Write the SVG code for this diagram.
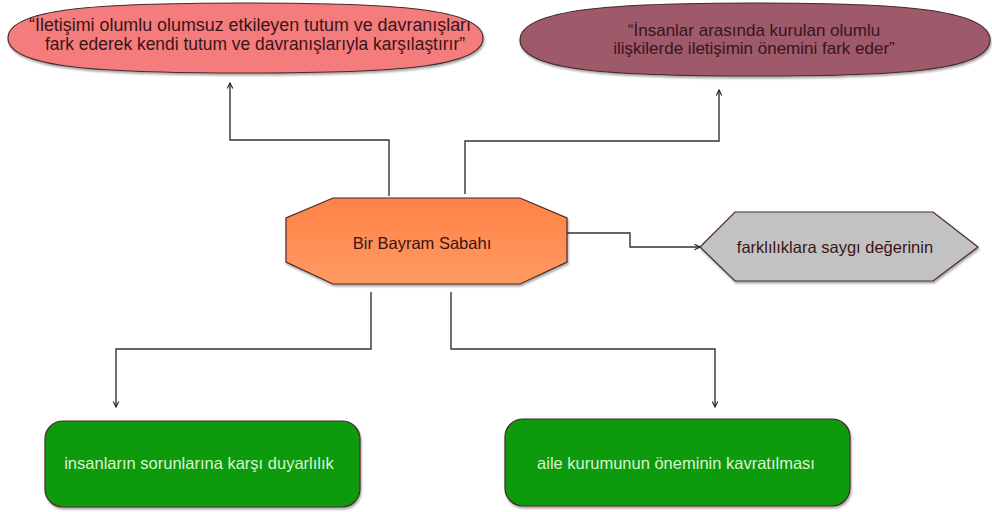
<svg xmlns="http://www.w3.org/2000/svg" width="992" height="512" viewBox="0 0 992 512">
  <defs>
    <marker id="arrow" viewBox="0 0 10 10" refX="9" refY="5" markerWidth="7" markerHeight="7" orient="auto" markerUnits="userSpaceOnUse">
      <path d="M1,1 L9,5 L1,9" fill="none" stroke="#222" stroke-width="1.6"/>
    </marker>
    <linearGradient id="orangeFill" x1="0" y1="0" x2="0" y2="1">
      <stop offset="0" stop-color="#FF8246"/>
      <stop offset="1" stop-color="#FF9A62"/>
    </linearGradient>
    <filter id="shadow" x="-5%" y="-10%" width="110%" height="130%">
      <feDropShadow dx="1" dy="2" stdDeviation="1" flood-color="#000" flood-opacity="0.35"/>
    </filter>
  </defs>
  <style>
    .shape { stroke: #4a2a2a; stroke-width: 1.2; filter: url(#shadow); }
    .label { font-family: "Liberation Sans", Arial, sans-serif; font-size: 16.5px; text-anchor: middle; }
    .big { font-size: 17.5px; }
    .mid { font-size: 17px; }
    .dark { fill: #3a1418; }
    .light { fill: #d8f5d0; }
    .conn { fill: none; stroke: #333; stroke-width: 1.4; marker-end: url(#arrow); }
  </style>
  <rect width="992" height="512" fill="#ffffff"/>

  <g id="connectors">
    <path class="conn" d="M389,196 V140 H230 V83"/>
    <path class="conn" d="M465,194 V141 H719 V90"/>
    <path class="conn" d="M567,233 H630 V247 H700"/>
    <path class="conn" d="M371,292 V349 H116 V407"/>
    <path class="conn" d="M451,292 V349 H715 V407"/>
  </g>

  <g id="node-iletisim-tutum">
    <path class="shape" fill="#F47C7C" d="M8,38 C8,8 100,3 245,3 C390,3 483,8 483,38 C483,68 390,73 245,73 C100,73 8,68 8,38 Z"/>
    <text class="label big dark" x="250" y="31" textLength="442" lengthAdjust="spacingAndGlyphs">“İletişimi olumlu olumsuz etkileyen tutum ve davranışları</text>
    <text class="label big dark" x="255" y="50" textLength="420" lengthAdjust="spacingAndGlyphs">fark ederek kendi tutum ve davranışlarıyla karşılaştırır”</text>
  </g>

  <g id="node-iletisim-onemi">
    <path class="shape" fill="#9E5A6B" d="M520,40 C520,8 620,3 755,3 C890,3 990,8 990,40 C990,72 890,76 755,76 C620,76 520,72 520,40 Z"/>
    <text class="label mid dark" x="754" y="36">“İnsanlar arasında kurulan olumlu</text>
    <text class="label mid dark" x="754" y="54">ilişkilerde iletişimin önemini fark eder”</text>
  </g>

  <g id="node-bayram">
    <polygon class="shape" fill="url(#orangeFill)" points="333,198 520,198 567,218 567,262 520,284 333,284 286,262 286,218"/>
    <text class="label dark" x="422" y="249">Bir Bayram Sabahı</text>
  </g>

  <g id="node-farkliliklar">
    <polygon class="shape" fill="#C2C2C2" points="700,247 735,212 933,212 978,247 933,281 735,281"/>
    <text class="label dark" x="835" y="253">farklılıklara saygı değerinin</text>
  </g>

  <g id="node-duyarlilik">
    <rect class="shape" fill="#0A9A0A" x="45" y="421" width="315" height="86" rx="18" ry="18"/>
    <text class="label light" x="199" y="469">insanların sorunlarına karşı duyarlılık</text>
  </g>

  <g id="node-aile">
    <rect class="shape" fill="#0A9A0A" x="505" y="419" width="345" height="87" rx="18" ry="18"/>
    <text class="label light" x="676" y="469">aile kurumunun öneminin kavratılması</text>
  </g>
</svg>
